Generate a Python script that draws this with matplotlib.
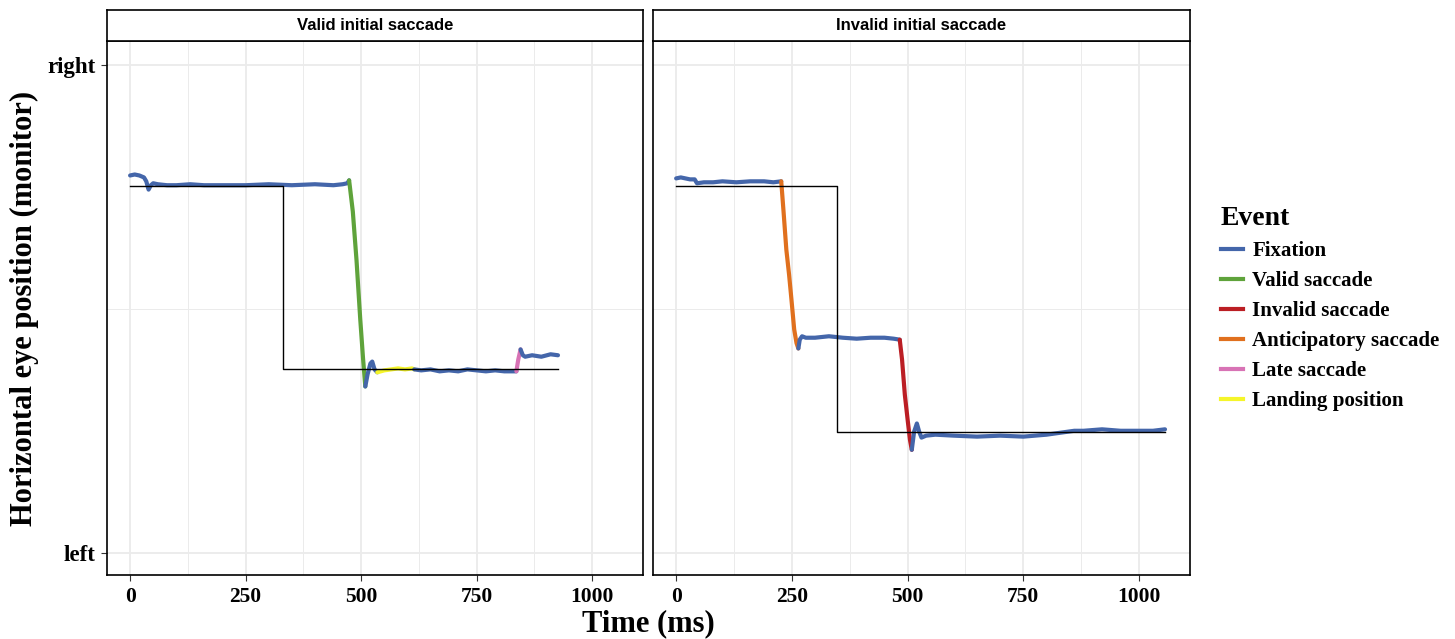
import matplotlib.pyplot as plt
from matplotlib.lines import Line2D

# eye trace, valid initial saccade panel (time in ms, position 0 = left, 1 = right)
valid_time = [0, 10, 20, 30, 35, 40, 45, 50, 60, 80, 100, 130, 160, 200, 250, 300, 350, 400, 440, 460, 470, 474,
              482, 490, 498, 504, 509,
              514, 520, 524, 529, 535,
              550, 565, 580, 595, 610, 615,
              630, 650, 670, 690, 710, 730, 750, 770, 790, 810, 830, 836,
              840, 845,
              850, 855, 870, 890, 910, 926]
valid_pos = [0.774, 0.776, 0.774, 0.770, 0.762, 0.745, 0.754, 0.758, 0.756, 0.754, 0.754, 0.756, 0.754, 0.754, 0.754, 0.756, 0.754, 0.756, 0.754, 0.756, 0.758, 0.764,
             0.70, 0.60, 0.48, 0.40, 0.341,
             0.366, 0.388, 0.392, 0.376, 0.370,
             0.374, 0.376, 0.378, 0.376, 0.378, 0.376,
             0.374, 0.376, 0.372, 0.374, 0.372, 0.376, 0.374, 0.372, 0.374, 0.372, 0.372, 0.372,
             0.396, 0.417,
             0.405, 0.402, 0.405, 0.402, 0.407, 0.405]
valid_event = (["Fixation"] * 22 + ["Valid saccade"] * 5 + ["Fixation"] * 5 + ["Landing position"] * 6
               + ["Fixation"] * 12 + ["Late saccade"] * 2 + ["Fixation"] * 6)

# eye trace, invalid initial saccade panel
invalid_time = [0, 10, 20, 30, 40, 45, 60, 80, 100, 130, 160, 190, 210, 227,
                232, 238, 244, 249, 255, 260, 264,
                267, 272, 280, 300, 330, 360, 390, 420, 450, 470, 483,
                488, 494, 500, 505, 509,
                514, 520, 525, 530, 540, 560, 600, 650, 700, 750, 800, 830, 860, 880, 920, 960, 1000, 1030, 1056]
invalid_pos = [0.768, 0.770, 0.768, 0.766, 0.766, 0.758, 0.760, 0.760, 0.762, 0.760, 0.762, 0.762, 0.760, 0.762,
               0.70, 0.622, 0.57, 0.520, 0.458, 0.43, 0.419,
               0.437, 0.444, 0.441, 0.441, 0.444, 0.441, 0.439, 0.441, 0.441, 0.439, 0.437,
               0.396, 0.324, 0.273, 0.232, 0.211,
               0.248, 0.265, 0.248, 0.236, 0.240, 0.242, 0.240, 0.238, 0.240, 0.238, 0.242, 0.246, 0.250, 0.250, 0.253, 0.250, 0.250, 0.250, 0.253]
invalid_event = (["Fixation"] * 14 + ["Anticipatory saccade"] * 7 + ["Fixation"] * 11
                 + ["Invalid saccade"] * 5 + ["Fixation"] * 19)

# target position (black step)
valid_target_time = [0, 330, 330, 926]
valid_target_pos = [0.752, 0.752, 0.376, 0.376]
invalid_target_time = [0, 348, 348, 1056]
invalid_target_pos = [0.752, 0.752, 0.248, 0.248]

events = ["Fixation", "Valid saccade", "Invalid saccade", "Anticipatory saccade", "Late saccade", "Landing position"]
event_colors = ["#4466AA", "#5FA33B", "#BB1E24", "#E0701E", "#D873B5", "#F5F52A"]
color_of = dict(zip(events, event_colors))

serif = ["Liberation Serif", "DejaVu Serif"]
sans = ["Liberation Sans", "DejaVu Sans"]


def draw_trace(ax, t, y, ev):
    # a segment takes the colour of its end sample
    start = 0
    for i in range(1, len(t) + 1):
        if i == len(t) or ev[i] != ev[start]:
            lo = max(start - 1, 0)
            ax.plot(t[lo:i], y[lo:i], color=color_of[ev[start]], lw=3, solid_capstyle="round",
                    solid_joinstyle="round", zorder=3)
            start = i


fig = plt.figure(figsize=(14.55, 6.39), dpi=100)
W, H = 1455, 639
panels = [
    (107, 643, "Valid initial saccade", valid_time, valid_pos, valid_event, valid_target_time, valid_target_pos),
    (653, 1190, "Invalid initial saccade", invalid_time, invalid_pos, invalid_event, invalid_target_time, invalid_target_pos),
]

for k, (x0, x1, title, t, y, ev, tt, ty) in enumerate(panels):
    ax = fig.add_axes([x0 / W, (H - 575) / H, (x1 - x0) / W, (575 - 41) / H])
    ax.set_xlim(-50, 1110)
    ax.set_ylim(-0.046, 1.05)
    ax.set_xticks([0, 250, 500, 750, 1000])
    ax.set_xticks([125, 375, 625, 875], minor=True)
    ax.set_yticks([0, 1])
    ax.set_yticks([0.5], minor=True)
    ax.grid(which="major", color="#EBEBEB", lw=1.3, zorder=0)
    ax.grid(which="minor", color="#EBEBEB", lw=0.7, zorder=0)
    ax.set_axisbelow(True)
    for s in ax.spines.values():
        s.set_color("black")
        s.set_linewidth(1.2)
    ax.tick_params(which="minor", length=0)
    ax.tick_params(which="major", length=4, width=0.8, color="#333333", pad=4)
    ax.tick_params(axis="x", pad=5)
    ax.set_xticklabels(["0", "250", "500", "750", "1000"], fontsize=15.5, fontweight="bold", family=serif)
    if k == 0:
        ax.set_yticklabels(["left", "right"], fontsize=16.5, fontweight="bold", family=serif)
    else:
        ax.tick_params(axis="y", length=0, labelleft=False)

    draw_trace(ax, t, y, ev)
    ax.plot(tt, ty, color="black", lw=1.0, zorder=4)

    # facet strip
    sx = fig.add_axes([x0 / W, (H - 41) / H, (x1 - x0) / W, 31 / H])
    sx.set_xticks([])
    sx.set_yticks([])
    for s in sx.spines.values():
        s.set_color("black")
        s.set_linewidth(1.2)
    sx.text(0.5, 0.5, title, ha="center", va="center", fontsize=12, fontweight="bold", family=sans)

fig.text(648 / W, 1 - 624 / H, "Time (ms)", ha="center", va="center", fontsize=22, fontweight="bold", family=serif)
fig.text(24 / W, 1 - 308 / H, "Horizontal eye position (monitor)", ha="center", va="center", rotation=90,
         fontsize=22, fontweight="bold", family=serif)

handles = [Line2D([], [], color=c, lw=3) for c in event_colors]
leg = fig.legend(handles, events, loc="upper left", bbox_to_anchor=(1221 / W, 1 - 206 / H), frameon=False,
                 title="Event", handlelength=1.05, handletextpad=0.45, labelspacing=0.48, alignment="left",
                 borderpad=0, borderaxespad=0,
                 prop={"family": serif, "weight": "bold", "size": 15},
                 title_fontproperties={"family": serif, "weight": "bold", "size": 20})

fig.savefig("out.png", dpi=100)
